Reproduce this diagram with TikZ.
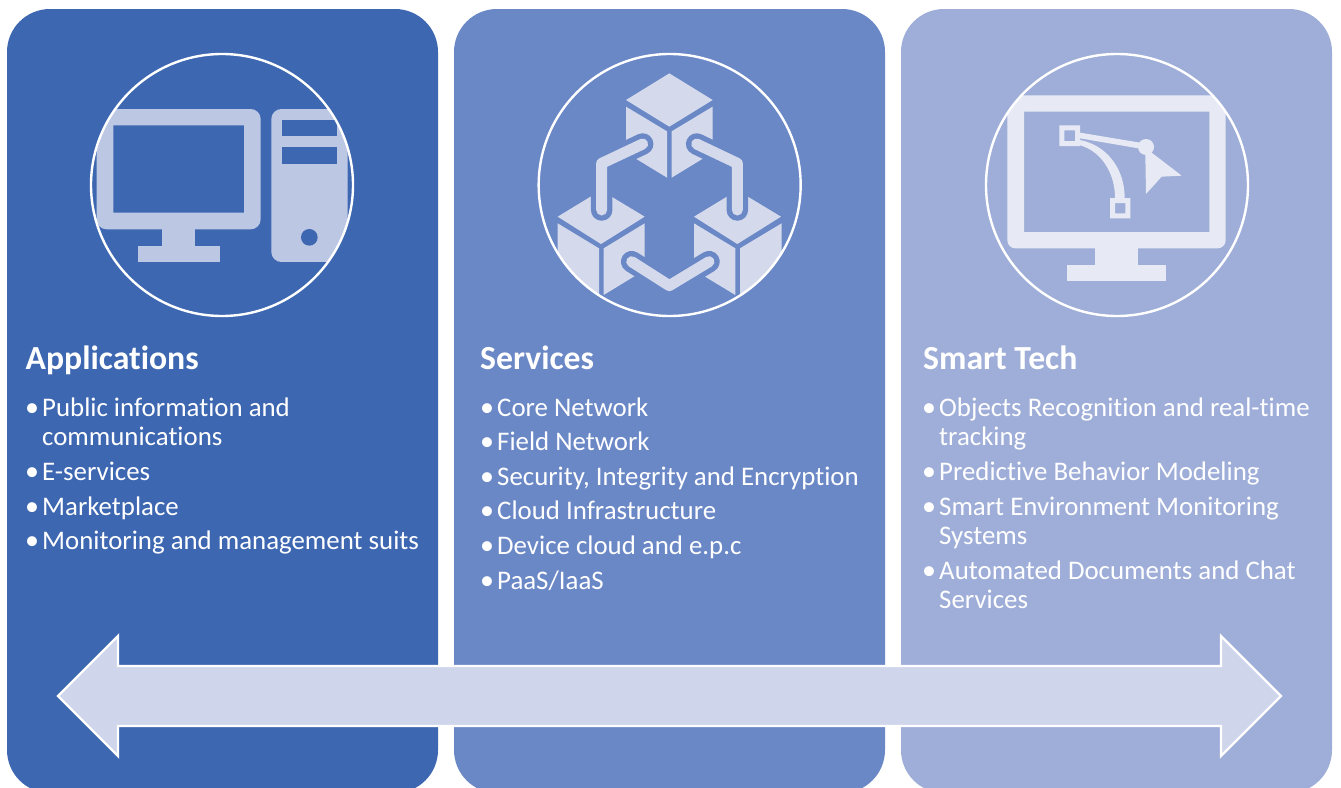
\documentclass[tikz,border=0pt]{standalone}
\usepackage{fontspec}
\setmainfont[Ligatures=NoCommon]{Carlito}
\definecolor{panelA}{HTML}{3E67B1}
\definecolor{panelB}{HTML}{6A87C6}
\definecolor{panelC}{HTML}{9FAED8}
\definecolor{iconA}{HTML}{BCC7E3}
\definecolor{iconB}{HTML}{D4DAEC}
\definecolor{iconC}{HTML}{E7EAF4}
\definecolor{arrowfill}{HTML}{CFD5EA}
\tikzset{
  panel/.style={rounded corners=43pt},
  ring/.style={draw=white,line width=2.4pt},
  heading/.style={anchor=base west,inner sep=0pt,text=white,font=\fontsize{33.7}{38}\selectfont\bfseries},
  item/.style={anchor=base west,inner sep=0pt,text=white,font=\fontsize{26.85}{30}\selectfont},
  dotmark/.style={anchor=base,inner sep=0pt,text=white,font=\fontsize{28}{30}\selectfont},
  zoomscale/.style={x=0.33333pt,y=-0.33333pt},
}
\begin{document}
\begin{tikzpicture}[x=1pt,y=-1pt]
\useasboundingbox (0,0) rectangle (1341,787);
\clip (0,0) rectangle (1341,787);
\fill[white] (0,0) rectangle (1341,787);
% panels
\fill[panelA,panel] (7,9) rectangle (438,793);
\fill[panelB,panel] (454,9) rectangle (885,793);
\fill[panelC,panel] (901,9) rectangle (1332,793);

% icon 1: computer
\begin{scope}[shift={(80,40)},zoomscale]
  \begin{scope}
    \clip (426,435) circle [radius=393];
    \fill[iconA,even odd rule,rounded corners=10pt] (50,207) rectangle (542,568)
      [sharp corners] (100,256) rectangle (492,518);
    \fill[iconA] (247,560) rectangle (345,620);
    \fill[iconA] (173,617) rectangle (419,666);
    \fill[iconA,rounded corners=10pt] (574,207) rectangle (803,666);
    \fill[panelA] (606,240) rectangle (770,289);
    \fill[panelA] (606,322) rectangle (770,371);
    \fill[panelA] (688,592) circle [radius=25];
  \end{scope}
  \draw[ring] (426,435) circle [radius=393];
\end{scope}

% icon 2: linked cubes
\begin{scope}[shift={(530,40)},zoomscale]
  \begin{scope}
    \clip (419,435) circle [radius=393];
    \fill[iconB] (418,100) -- (548,180) -- (418,260) -- (288,180) -- cycle;
    \fill[iconB] (288,200) -- (411,274) -- (411,413) -- (288,338) -- cycle;
    \fill[iconB] (548,200) -- (425,274) -- (425,413) -- (548,338) -- cycle;
    \fill[iconB] (83,530) -- (213,451) -- (344,530) -- (213,612) -- cycle;
    \fill[iconB] (83,550) -- (207,625) -- (207,765) -- (83,690) -- cycle;
    \fill[iconB] (344,550) -- (221,625) -- (221,765) -- (344,690) -- cycle;
    \fill[iconB] (492,530) -- (622,451) -- (753,530) -- (622,612) -- cycle;
    \fill[iconB] (492,550) -- (616,625) -- (616,765) -- (492,690) -- cycle;
    \fill[iconB] (755,550) -- (630,625) -- (630,765) -- (755,690) -- cycle;
    \draw[panelB,line width=21.5pt,line cap=round] (338,312) -- (215,370) -- (215,510);
    \draw[panelB,line width=21.5pt,line cap=round] (500,312) -- (622,370) -- (622,510);
    \draw[panelB,line width=21.5pt,line cap=round] (305,665) -- (418,737) -- (537,665);
    \draw[iconB,line width=11pt,line cap=round,line join=round] (338,312) -- (215,370) -- (215,510);
    \draw[iconB,line width=11pt,line cap=round,line join=round] (500,312) -- (622,370) -- (622,510);
    \draw[iconB,line width=11pt,line cap=round,line join=round] (305,665) -- (418,737) -- (537,665);
  \end{scope}
  \draw[ring] (419,435) circle [radius=393];
\end{scope}

% icon 3: monitor with curve
\begin{scope}[shift={(975,40)},zoomscale]
  \begin{scope}
    \clip (426,435) circle [radius=393];
    \fill[iconC,even odd rule,rounded corners=8pt] (97,166) rectangle (752,625)
      [sharp corners] (147,215) rectangle (703,576);
    \fill[iconC] (360,620) rectangle (490,680);
    \fill[iconC] (277,675) rectangle (572,723);
    \fill[iconC,even odd rule] (253,256) rectangle (315,318) (268,271) rectangle (300,303);
    \fill[iconC,even odd rule] (405,474) rectangle (466,535) (420,489) rectangle (451,520);
    \fill[iconC] (513,321) circle [radius=24];
    \fill[iconC] (315,278) -- (495,308) -- (490,325) -- (315,295) -- cycle;
    \fill[iconC] (315,300) .. controls (395,316) and (449,385) .. (449,474)
      -- (420,474) .. controls (420,395) and (375,332) .. (315,316) -- cycle;
    \fill[iconC] (530,338) -- (620,407) -- (560,410) -- (513,462) -- (511,345) -- cycle;
  \end{scope}
  \draw[ring] (426,435) circle [radius=393];
\end{scope}

% double arrow
\draw[fill=arrowfill,draw=white,line width=2.4pt,miter limit=10]
  (58,696) -- (118,636) -- (118,666) -- (1221,666) -- (1221,636) -- (1281,696)
  -- (1221,756) -- (1221,726) -- (118,726) -- (118,756) -- cycle;

% column 1
\node[heading] (h1) at (25.5,369.7) {Applications};
\node[dotmark] (b11) at (32,416) {•};
\node[item] (t11) at (42,416) {Public information and};
\node[item] (t12) at (42,445.3) {communications};
\node[dotmark] (b12) at (32,480) {•};
\node[item] (t13) at (42,480) {E-services};
\node[dotmark] (b13) at (32,515) {•};
\node[item] (t14) at (42,515) {Marketplace};
\node[dotmark] (b14) at (32,549) {•};
\node[item] (t15) at (42,549) {Monitoring and management suits};

% column 2
\node[heading] (h2) at (480,369.7) {Services};
\node[dotmark] (b21) at (487,416) {•};
\node[item] (t21) at (497,416) {Core Network};
\node[dotmark] (b22) at (487,450) {•};
\node[item] (t22) at (497,450) {Field Network};
\node[dotmark] (b23) at (487,485) {•};
\node[item] (t23) at (497,485) {Security, Integrity and Encryption};
\node[dotmark] (b24) at (487,519) {•};
\node[item] (t24) at (497,519) {Cloud Infrastructure};
\node[dotmark] (b25) at (487,554) {•};
\node[item] (t25) at (497,554) {Device cloud and e.p.c};
\node[dotmark] (b26) at (487,589) {•};
\node[item] (t26) at (497,589) {PaaS/IaaS};

% column 3
\node[heading] (h3) at (923,369.7) {Smart Tech};
\node[dotmark] (b31) at (929,416) {•};
\node[item] (t31) at (939,416) {Objects Recognition and real-time};
\node[item] (t32) at (939,445.3) {tracking};
\node[dotmark] (b32) at (929,480) {•};
\node[item] (t33) at (939,480) {Predictive Behavior Modeling};
\node[dotmark] (b33) at (929,515) {•};
\node[item] (t34) at (939,515) {Smart Environment Monitoring};
\node[item] (t35) at (939,544.3) {Systems};
\node[dotmark] (b34) at (929,579) {•};
\node[item] (t36) at (939,579) {Automated Documents and Chat};
\node[item] (t37) at (939,608.3) {Services};
\end{tikzpicture}
\end{document}
